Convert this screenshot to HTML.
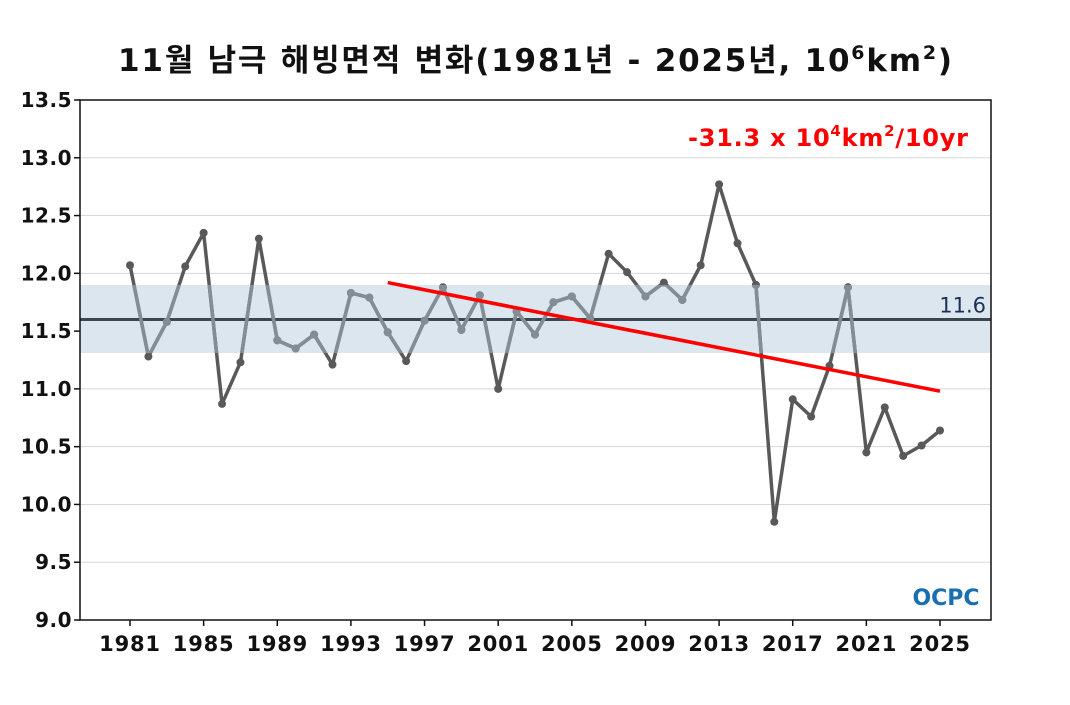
<!DOCTYPE html>
<html><head><meta charset="utf-8"><style>
body{margin:0;background:#fff;}
svg text{font-family:"DejaVu Sans","Noto Sans CJK KR",sans-serif;}
</style></head><body>
<svg id="chart" width="1070" height="700" viewBox="0 0 1070 700">
<text x="118" y="71" font-size="31" font-weight="bold" fill="#111" textLength="834" lengthAdjust="spacing">11월 남극 해빙면적 변화(1981년 - 2025년, 10<tspan dy="-12" font-size="19">6</tspan><tspan dy="12">km</tspan><tspan dy="-12" font-size="19">2</tspan><tspan dy="12">)</tspan></text>
<defs><clipPath id="bandclip"><rect id="bandclipRect" x="80" y="0" width="911" height="0"/></clipPath></defs>
<g id="grid"></g>
<g id="band"></g>
<g id="series"></g>
<rect x="80" y="100" width="911" height="520" fill="none" stroke="#111" stroke-width="1.5"/>
<g id="axes"></g>
<text x="688" y="146" font-size="24" font-weight="bold" fill="#f00" textLength="280" lengthAdjust="spacing">-31.3 x 10<tspan dy="-10" font-size="15">4</tspan><tspan dy="10">km</tspan><tspan dy="-10" font-size="15">2</tspan><tspan dy="10">/10yr</tspan></text>
<text x="946" y="605" text-anchor="middle" font-size="22" font-weight="bold" fill="#1a6fb0">OCPC</text>
</svg>
<script>
const years=[1981,1982,1983,1984,1985,1986,1987,1988,1989,1990,1991,1992,1993,1994,1995,1996,1997,1998,1999,2000,2001,2002,2003,2004,2005,2006,2007,2008,2009,2010,2011,2012,2013,2014,2015,2016,2017,2018,2019,2020,2021,2022,2023,2024,2025];
const extent=[12.07,11.28,11.58,12.06,12.35,10.87,11.23,12.30,11.42,11.35,11.47,11.21,11.83,11.79,11.49,11.24,11.59,11.88,11.51,11.81,11.00,11.67,11.47,11.75,11.80,11.61,12.17,12.01,11.80,11.92,11.77,12.07,12.77,12.26,11.90,9.85,10.91,10.76,11.20,11.88,10.45,10.84,10.42,10.51,10.64];
const trendYears=[1995,2025];
const trendVals=[11.92,10.98];
const climMean=11.6;
const climBand=[11.31,11.90];
const yTicks=[9.0,9.5,10.0,10.5,11.0,11.5,12.0,12.5,13.0,13.5];
const xTickYears=[1981,1985,1989,1993,1997,2001,2005,2009,2013,2017,2021,2025];

const NS='http://www.w3.org/2000/svg';
const X=y=>130+(y-1981)*(810/44);
const Y=v=>100+(13.5-v)*(520/4.5);
function mk(tag,attrs,parent){const e=document.createElementNS(NS,tag);for(const k in attrs)e.setAttribute(k,attrs[k]);document.getElementById(parent).appendChild(e);return e;}

yTicks.forEach(t=>{
  if(t>9&&t<13.5){const g=mk('line',{x1:80,x2:991,y1:Y(t),y2:Y(t),stroke:'#d8d8d8','stroke-width':1},'grid');
  
  }
  const tk=mk('line',{x1:74,x2:80,y1:Y(t),y2:Y(t),stroke:'#111','stroke-width':1.5},'axes');
  
  
  const l=mk('text',{x:72,y:Y(t)+7,'text-anchor':'end','font-size':20,'font-weight':'bold',fill:'#111','letter-spacing':0.5},'axes');
  l.textContent=t.toFixed(1);
  
  
});
xTickYears.forEach(yr=>{
  const tk=mk('line',{x1:X(yr),x2:X(yr),y1:620,y2:626,stroke:'#111','stroke-width':1.5},'axes');
  
  
  const l=mk('text',{x:X(yr),y:651,'text-anchor':'middle','font-size':21,'font-weight':'bold',fill:'#111','letter-spacing':0.8},'axes');
  l.textContent=yr;
  
  
});
const b=mk('rect',{x:80,y:Y(climBand[1]),width:911,height:Y(climBand[0])-Y(climBand[1]),fill:'#dce6ef'},'band');


document.getElementById('bandclipRect').setAttribute('y',Y(climBand[1]));
document.getElementById('bandclipRect').setAttribute('height',Y(climBand[0])-Y(climBand[1]));
const ml=mk('line',{x1:80,x2:991,y1:Y(climMean),y2:Y(climMean),stroke:'#3c4650','stroke-width':3},'band');


const mt=mk('text',{x:986,y:Y(climMean)-7,'text-anchor':'end','font-size':21,fill:'#1d2f55'},'band');
mt.textContent=climMean.toFixed(1);



const pts=years.map((y,i)=>X(y)+','+Y(extent[i])).join(' ');
const dark=mk('polyline',{points:pts,fill:'none',stroke:'#595959','stroke-width':3.5,'stroke-linejoin':'round'},'series');


years.forEach((y,i)=>{const c=mk('circle',{cx:X(y),cy:Y(extent[i]),r:4,fill:'#595959'},'series');

});
const lg=mk('g',{'clip-path':'url(#bandclip)'},'series');
const light=document.createElementNS(NS,'polyline');
light.setAttribute('points',pts);light.setAttribute('fill','none');light.setAttribute('stroke','#848d96');light.setAttribute('stroke-width',3.5);light.setAttribute('stroke-linejoin','round');


lg.appendChild(light);
years.forEach((y,i)=>{const c=document.createElementNS(NS,'circle');c.setAttribute('cx',X(y));c.setAttribute('cy',Y(extent[i]));c.setAttribute('r',4);c.setAttribute('fill','#848d96');


lg.appendChild(c);});
const tr=mk('line',{x1:X(trendYears[0]),y1:Y(trendVals[0]),x2:X(trendYears[1]),y2:Y(trendVals[1]),stroke:'#f00','stroke-width':3.5},'series');


const trIn=document.createElementNS(NS,'line');
trIn.setAttribute('x1',X(trendYears[0]));trIn.setAttribute('y1',Y(trendVals[0]));trIn.setAttribute('x2',X(trendYears[1]));trIn.setAttribute('y2',Y(trendVals[1]));
trIn.setAttribute('stroke','#e05560');trIn.setAttribute('stroke-width',3.5);


lg.appendChild(trIn);
</script>
</body></html>
